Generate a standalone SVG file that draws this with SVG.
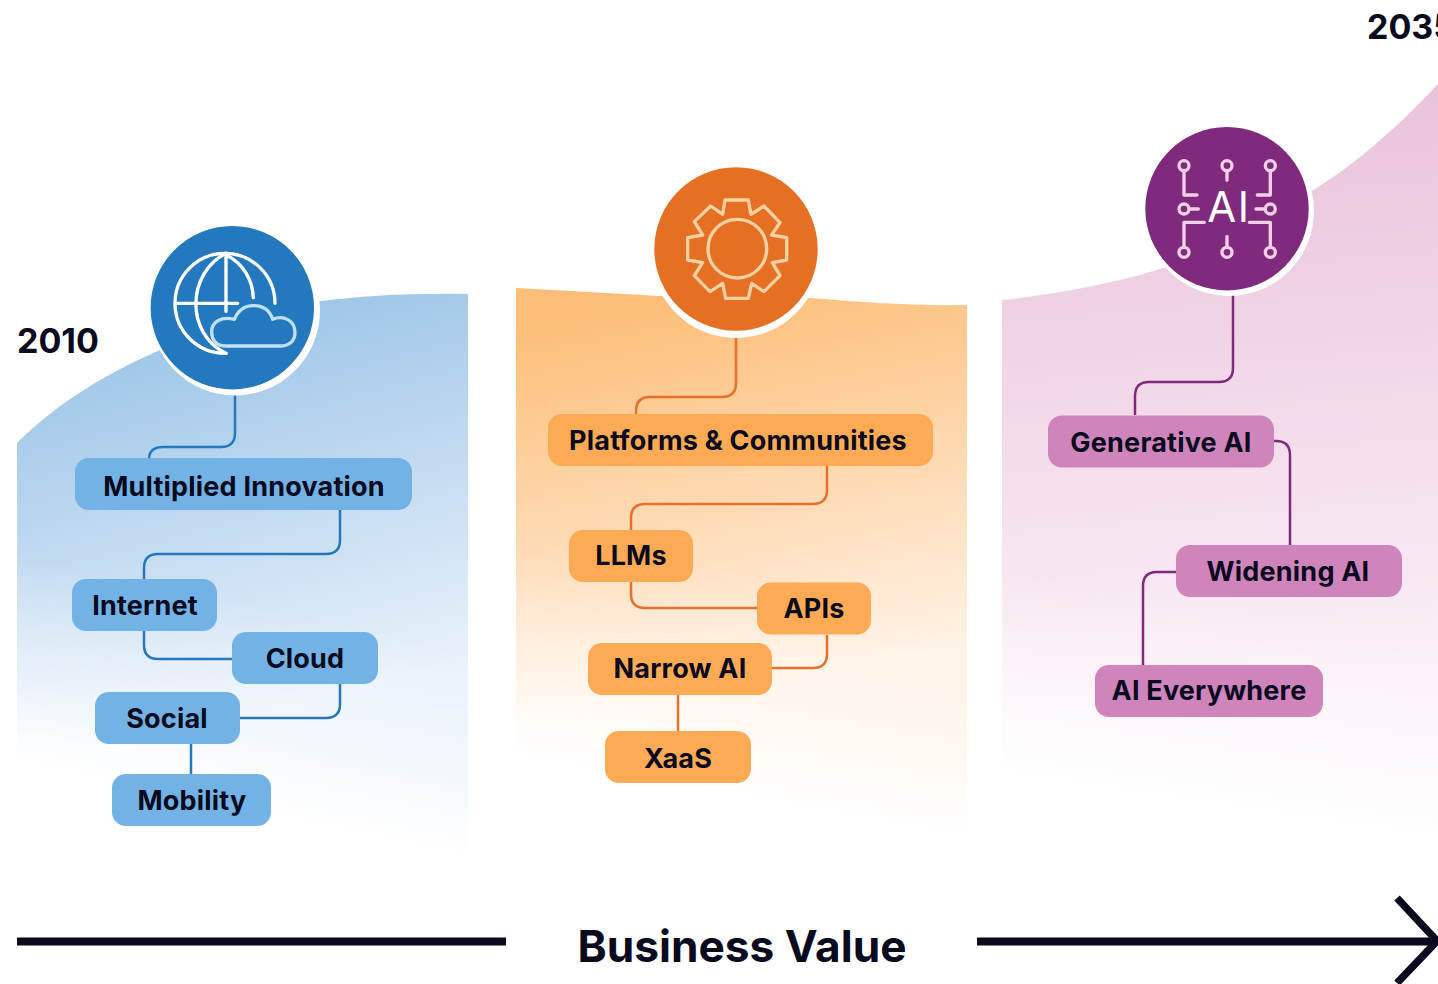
<svg xmlns="http://www.w3.org/2000/svg" width="1438" height="984" viewBox="0 0 1438 984">
<style>
text{font-family:Inter,"Liberation Sans",sans-serif;font-weight:700;fill:#0a0a1f}
.lb{font-size:27px;text-anchor:middle;letter-spacing:.2px}
.n{stroke:none}
.c{fill:none;stroke-width:2.5}
.blue .n{fill:#72b2e4}.orange .n{fill:#fdaa55}.pink .n{fill:#cf84bb}
.ic{fill:none;stroke-linecap:round;stroke-linejoin:round;stroke-width:10}
</style>
<defs>
<linearGradient id="gb" gradientUnits="userSpaceOnUse" x1="130" y1="320" x2="235" y2="720"><stop offset="0" stop-color="#9ac3e7"/><stop offset="1" stop-color="#e8f1fa"/></linearGradient>
<linearGradient id="go" gradientUnits="userSpaceOnUse" x1="620" y1="300" x2="700" y2="700"><stop offset="0" stop-color="#fcbd76"/><stop offset="1" stop-color="#fff2e6"/></linearGradient>
<linearGradient id="gp" gradientUnits="userSpaceOnUse" x1="1200" y1="100" x2="1250" y2="700"><stop offset="0" stop-color="#e9c2da"/><stop offset="1" stop-color="#fbf1f8"/></linearGradient>
<linearGradient id="fb" gradientUnits="userSpaceOnUse" x1="242" y1="600" x2="200" y2="800"><stop offset="0" stop-color="#fff" stop-opacity="0"/><stop offset=".6" stop-color="#fff" stop-opacity=".45"/><stop offset="1" stop-color="#fff"/></linearGradient>
<linearGradient id="fo" gradientUnits="userSpaceOnUse" x1="741" y1="590" x2="705" y2="790"><stop offset="0" stop-color="#fff" stop-opacity="0"/><stop offset=".6" stop-color="#fff" stop-opacity=".45"/><stop offset="1" stop-color="#fff"/></linearGradient>
<linearGradient id="fp" gradientUnits="userSpaceOnUse" x1="1220" y1="600" x2="1190" y2="800"><stop offset="0" stop-color="#fff" stop-opacity="0"/><stop offset=".6" stop-color="#fff" stop-opacity=".45"/><stop offset="1" stop-color="#fff"/></linearGradient>
<path id="pb" d="M17 443C60 400 110 372 160 350L300 304C350 296 410 293 468 294V880H17Z"/>
<path id="po" d="M516 288L660 296L810 298C860 302 910 306 967 305V900H516Z"/>
<path id="pp" d="M1002 300C1060 294 1120 282 1170 266L1300 198C1350 170 1400 125 1438 84V880H1002Z"/>
</defs>
<use href="#pb" fill="url(#gb)"/><use href="#pb" fill="url(#fb)"/>
<use href="#po" fill="url(#go)"/><use href="#po" fill="url(#fo)"/>
<use href="#pp" fill="url(#gp)"/><use href="#pp" fill="url(#fp)"/>
<g id="connectors">
<g class="c" stroke="#2478bd">
<path d="M235 392V433Q235 447 221 447H163Q150 447 149 458"/>
<path d="M340 510V540Q340 554 326 554H158Q144 554 144 568V580"/>
<path d="M144 631V645Q144 659 158 659H233"/>
<path d="M340 684V704Q340 718 326 718H240"/>
<path d="M191 744V774"/>
</g>
<g class="c" stroke="#e5702a">
<path d="M736 335V383Q736 397 722 397H650Q636 397 636 411V414"/>
<path d="M827 466V490Q827 504 813 504H645Q631 504 631 518V530"/>
<path d="M631 582V594Q631 608 645 608H757"/>
<path d="M827 635V654Q827 668 813 668H772"/>
<path d="M678 695V731"/>
</g>
<g class="c" stroke="#7f2a7d">
<path d="M1233 294V368Q1233 382 1219 382H1149Q1135 382 1135 396V415"/>
<path d="M1274 441H1276Q1290 441 1290 455V545"/>
<path d="M1176 572H1157Q1143 572 1143 586V665"/>
</g>
</g>
<g id="icon-globe">
<circle cx="235" cy="310.500" r="85" fill="#fff"/>
<circle cx="232.300" cy="307.700" r="81.700" fill="#2478bd"/>
<g class="ic" transform="translate(130 210) scale(.3333)">
<g stroke="#fff">
<path d="M435 280A150 150 0 1 0 288 430"/>
<path d="M288 130C170 190 165 370 288 430"/>
<path d="M288 135C340 160 368 210 370 263"/>
<path d="M288 130V304M138 280H323"/>
</g>
<path stroke="#bfe0f5" d="M285 408C255 408 245 385 245 365C245 335 275 318 313 328C325 300 345 287 370 287C400 287 420 303 428 328C460 315 495 330 495 368C495 395 475 408 450 408Z"/>
</g>
</g>
<g id="icon-gear">
<circle cx="736" cy="253" r="85" fill="#fff"/>
<circle cx="736" cy="249" r="81.700" fill="#e57023"/>
<g class="ic" stroke="#fad0a3" transform="translate(640 155) scale(.3333)">
<path d="M255 135H325L333 178L372 153L420 203L395 240L440 248V315L397 323L420 362L372 410L335 385L325 430H257L248 385L210 410L163 362L188 323L143 315V248L188 240L163 200L212 153L248 178Z"/>
<circle cx="292" cy="281" r="88"/>
</g>
</g>
<g id="icon-ai">
<circle cx="1229" cy="211" r="85" fill="#fff"/>
<circle cx="1227" cy="208.700" r="81.700" fill="#7f2a7d"/>
<g class="ic" stroke="#f3cfe6" transform="translate(1130 115) scale(.3333)">
<circle cx="162" cy="152" r="15"/><circle cx="291" cy="152" r="15"/><circle cx="421" cy="152" r="15"/>
<circle cx="162" cy="282" r="15"/><circle cx="421" cy="282" r="15"/>
<circle cx="162" cy="412" r="15"/><circle cx="291" cy="412" r="15"/><circle cx="421" cy="412" r="15"/>
<path d="M162 168V240H201M291 168V196M421 168V240H382M178 282H205M405 282H378M223 322H162V395M291 364V395M358 322H421V395"/>
</g>
<text x="1229" y="222" style="font-size:42px;font-weight:400;fill:#fff;text-anchor:middle;letter-spacing:1.500px">AI</text>
</g>
<g class="blue">
<g id="n-multiplied"><rect class="n" x="75" y="458" width="337" height="52" rx="14"/><text class="lb" x="244" y="496">Multiplied Innovation</text></g>
<g id="n-internet"><rect class="n" x="72" y="579" width="145" height="52" rx="14"/><text class="lb" x="145" y="615">Internet</text></g>
<g id="n-cloud"><rect class="n" x="232" y="632" width="146" height="52" rx="14"/><text class="lb" x="305" y="668">Cloud</text></g>
<g id="n-social"><rect class="n" x="95" y="692" width="145" height="52" rx="14"/><text class="lb" x="167" y="728">Social</text></g>
<g id="n-mobility"><rect class="n" x="112" y="774" width="159" height="52" rx="14"/><text class="lb" x="192" y="810">Mobility</text></g>
</g>
<g class="orange">
<g id="n-platforms"><rect class="n" x="548" y="414" width="385" height="52" rx="14"/><text class="lb" x="738" y="450">Platforms &amp; Communities</text></g>
<g id="n-llms"><rect class="n" x="569" y="530" width="124" height="52" rx="14"/><text class="lb" x="631" y="565">LLMs</text></g>
<g id="n-apis"><rect class="n" x="757" y="582.500" width="114" height="52" rx="14"/><text class="lb" x="814" y="618">APIs</text></g>
<g id="n-narrow"><rect class="n" x="588" y="643" width="184" height="52" rx="14"/><text class="lb" x="680" y="678">Narrow AI</text></g>
<g id="n-xaas"><rect class="n" x="605" y="731" width="146" height="52" rx="14"/><text class="lb" x="678" y="768">XaaS</text></g>
</g>
<g class="pink">
<g id="n-generative"><rect class="n" x="1048" y="415.500" width="226" height="52" rx="14"/><text class="lb" x="1161" y="452">Generative AI</text></g>
<g id="n-widening"><rect class="n" x="1176" y="545" width="226" height="52" rx="14"/><text class="lb" x="1288" y="581">Widening AI</text></g>
<g id="n-everywhere"><rect class="n" x="1095" y="665" width="228" height="52" rx="14"/><text class="lb" x="1209" y="700">AI Everywhere</text></g>
</g>
<text x="17" y="353" style="font-size:34px">2010</text>
<text x="1367" y="39" style="font-size:34px">2035</text>
<text x="742" y="962" style="font-size:44.200px;text-anchor:middle">Business Value</text>
<g fill="none" stroke="#0a0a1f" stroke-width="8">
<path d="M17 941.500H506M977 941.500H1436"/>
<path stroke-width="7.500" d="M1397 898L1437 941L1397 983"/>
</g>
</svg>
